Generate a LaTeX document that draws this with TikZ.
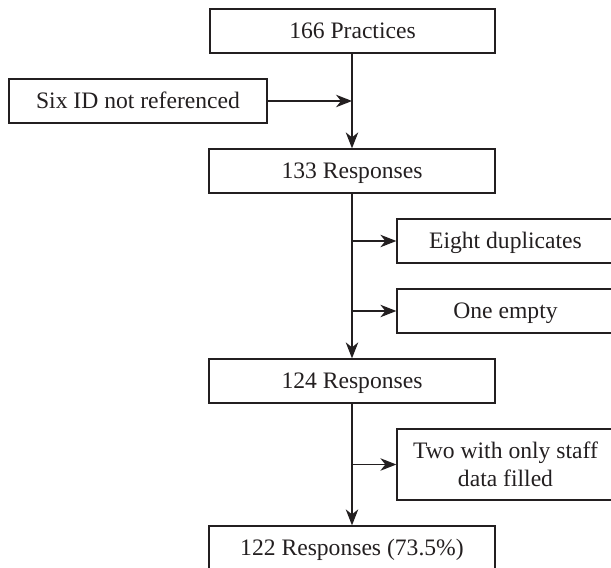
\documentclass[tikz,border=0pt]{standalone}
\usepackage{fontspec}
\setmainfont{Liberation Serif}
\usepackage{xcolor}
\usetikzlibrary{arrows.meta}
\definecolor{ink}{RGB}{35,31,32}

\begin{document}
\begin{tikzpicture}[x=1pt, y=-1pt,
  box/.style={draw=ink, line width=1.3pt, text=ink, inner sep=0pt,
    minimum height=44pt, font=\fontsize{23.6}{28}\selectfont},
  onebox/.style={box, text height=19pt, text depth=3.4pt},
  arr/.style={draw=ink, line width=1.3pt,
    -{Stealth[length=16pt, width=12.5pt, inset=5pt]}}]
\useasboundingbox (0,0) rectangle (611,568);
\clip (0,0) rectangle (611,568);

\node[onebox, minimum width=285pt] (prac) at (352.5,31) {166 Practices};
\node[onebox, minimum width=258pt] (six) at (138,101) {Six ID not referenced};
\node[onebox, minimum width=286pt] (r133) at (352,171) {133 Responses};
\node[onebox, minimum width=217pt] (dup) at (505.5,241) {Eight duplicates};
\node[onebox, minimum width=217pt] (empty) at (505.5,311) {One empty};
\node[onebox, minimum width=286pt] (r124) at (352,381) {124 Responses};
\node[box, minimum width=217pt, minimum height=71pt, align=center]
  (staff) at (505.5,464.5) {Two with only staff\\data filled};
\node[onebox, minimum width=286pt] (r122) at (352,548) {122 Responses (73.5\%)};

\draw[arr] (prac.south -| r133.north) -- (r133.north);
\draw[arr] (six.east) -- (six.east -| r133.north);
\draw[arr] (r133.south) -- (r124.north);
\draw[arr] (dup.west -| r133.south) -- (dup.west);
\draw[arr] (empty.west -| r133.south) -- (empty.west);
\draw[arr] (r124.south) -- (r122.north);
\draw[arr] (staff.west -| r124.south) -- (staff.west);
\end{tikzpicture}
\end{document}
